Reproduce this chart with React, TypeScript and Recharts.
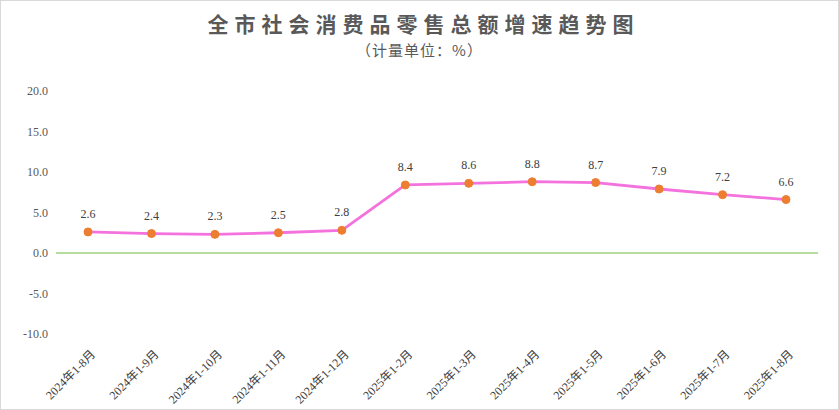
import React from "react";
import {
  LabelList,
  Line,
  LineChart,
  ReferenceLine,
  XAxis,
  YAxis,
} from "recharts";

const months: string[] = [
  "2024年1-8月",
  "2024年1-9月",
  "2024年1-10月",
  "2024年1-11月",
  "2024年1-12月",
  "2025年1-2月",
  "2025年1-3月",
  "2025年1-4月",
  "2025年1-5月",
  "2025年1-6月",
  "2025年1-7月",
  "2025年1-8月",
];

const growth: number[] = [2.6, 2.4, 2.3, 2.5, 2.8, 8.4, 8.6, 8.8, 8.7, 7.9, 7.2, 6.6];

const yTicks: number[] = [-10, -5, 0, 5, 10, 15, 20];

const data = months.map((name, i) => ({ name, value: growth[i] }));

const serif = '"Liberation Serif", "Noto Sans CJK SC", serif';

const MonthTick = (props: any) => {
  const { x, y, payload } = props;
  return (
    <g transform={`translate(${x + 5},${y + 10}) rotate(-45)`}>
      <text
        x={0}
        y={0}
        dy="0.35em"
        textAnchor="end"
        style={{ fontSize: 12, fontFamily: serif, fill: "#404040" }}
      >
        {payload.value}
      </text>
    </g>
  );
};

export default function App() {
  return (
    <div
      style={{
        position: "absolute",
        left: 0,
        top: 0,
        width: 837,
        height: 408,
        border: "1px solid #d9d9d9",
        background: "#fff",
      }}
    >
      <div
        style={{
          position: "absolute",
          top: 8,
          left: 4,
          width: 837,
          textAlign: "center",
          fontFamily: '"Noto Sans CJK SC", sans-serif',
          fontWeight: 700,
          fontSize: 21,
          letterSpacing: 6,
          color: "#595959",
          lineHeight: "28px",
        }}
      >
        全市社会消费品零售总额增速趋势图
      </div>
      <div
        style={{
          position: "absolute",
          top: 39,
          left: 0,
          width: 837,
          textAlign: "center",
          fontFamily: '"Noto Sans CJK SC", sans-serif',
          fontSize: 15,
          letterSpacing: 1,
          color: "#595959",
          lineHeight: "20px",
        }}
      >
        （计量单位：%）
      </div>
      <LineChart
        width={838}
        height={409}
        data={data}
        margin={{ top: 91, right: 20, bottom: 0, left: 0 }}
        style={{ position: "absolute", left: -1, top: -1 }}
      >
        <XAxis
          dataKey="name"
          axisLine={false}
          tickLine={false}
          interval={0}
          height={75}
          padding={{ left: 32, right: 32 }}
          tick={<MonthTick />}
        />
        <YAxis
          domain={[-10, 20]}
          ticks={yTicks}
          width={56}
          axisLine={false}
          tickLine={false}
          tickFormatter={(v: number) => v.toFixed(1)}
          tick={{ fontSize: 12, fill: "#595959", style: { fontFamily: serif } }}
        />
        <ReferenceLine y={0} stroke="#9fd07f" strokeWidth={1.3} />
        <Line
          type="linear"
          dataKey="value"
          stroke="#f472dd"
          strokeWidth={2.8}
          dot={{ r: 4, fill: "#ed7d31", stroke: "#ed7d31", strokeWidth: 1 }}
          activeDot={false}
          isAnimationActive={false}
        >
          <LabelList
            dataKey="value"
            position="top"
            offset={14}
            formatter={(v: any) => Number(v).toFixed(1)}
            style={{ fontSize: 12, fontFamily: serif, fill: "#404040" }}
          />
        </Line>
      </LineChart>
    </div>
  );
}
